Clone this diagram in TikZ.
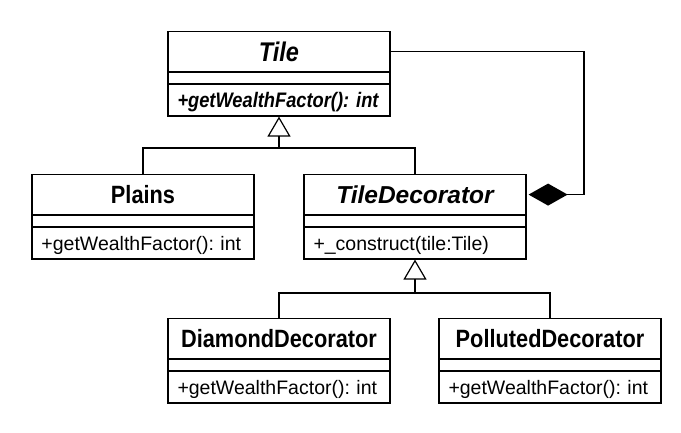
\documentclass[tikz,border=0pt]{standalone}
\usepackage{fontspec}
\setmainfont{Liberation Sans}
\newfontfamily\namefont{Liberation Sans}[FakeStretch=0.87]
\usetikzlibrary{arrows.meta}

\tikzset{
  clsname/.style={draw, line width=1.2pt, minimum width=222pt, minimum height=40pt,
    inner sep=0pt, text height=17.9pt, text depth=0pt,
    font=\namefont\fontsize{25}{25}\selectfont\bfseries},
  clsabstract/.style={clsname, text height=17.5pt,
    font=\fontsize{24.5}{24.5}\selectfont\bfseries\itshape},
  clsgap/.style={draw, line width=1.2pt, minimum width=222pt, minimum height=10.5pt,
    inner sep=0pt},
  clsop/.style={draw, line width=1.2pt, minimum width=222pt, minimum height=31.5pt,
    inner sep=0pt, text width=203pt, align=left, text height=14pt, text depth=0pt,
    font=\fontsize{19.5}{19.5}\selectfont},
  link/.style={line width=1.8pt},
  inherit/.style={link, -{Triangle[open, length=20pt, width=23pt, line width=1.2pt]}},
}

\begin{document}
\frenchspacing
\begin{tikzpicture}[x=1pt,y=-1pt]
  \useasboundingbox (0,0) rectangle (681,433);

  % abstract base class
  \node[clsabstract, anchor=north, text height=19.3pt, font=\namefont\fontsize{27}{27}\selectfont\bfseries\itshape] (Tile) at (279,31) {Tile};
  \node[clsgap, anchor=north] (Tile-a) at (Tile.south) {};
  \node[clsop, anchor=north, text height=15pt, font=\namefont\fontsize{21}{21}\selectfont\bfseries\itshape] (Tile-o) at (Tile-a.south) {+getWealthFactor(): int};

  % concrete tile
  \node[clsname, anchor=north] (Plains) at (143,174) {Plains};
  \node[clsgap, anchor=north] (Plains-a) at (Plains.south) {};
  \node[clsop, anchor=north] (Plains-o) at (Plains-a.south) {+getWealthFactor(): int};

  % abstract decorator
  \node[clsabstract, anchor=north] (TileDecorator) at (415,174) {TileDecorator};
  \node[clsgap, anchor=north] (TileDecorator-a) at (TileDecorator.south) {};
  \node[clsop, anchor=north] (TileDecorator-o) at (TileDecorator-a.south) {+\_construct(tile:Tile)};

  % concrete decorators
  \node[clsname, anchor=north] (DiamondDecorator) at (279,318) {DiamondDecorator};
  \node[clsgap, anchor=north] (DiamondDecorator-a) at (DiamondDecorator.south) {};
  \node[clsop, anchor=north] (DiamondDecorator-o) at (DiamondDecorator-a.south) {+getWealthFactor(): int};

  \node[clsname, anchor=north] (PollutedDecorator) at (550,318) {PollutedDecorator};
  \node[clsgap, anchor=north] (PollutedDecorator-a) at (PollutedDecorator.south) {};
  \node[clsop, anchor=north] (PollutedDecorator-o) at (PollutedDecorator-a.south) {+getWealthFactor(): int};

  % generalisation Plains/TileDecorator -> Tile
  \coordinate (bar1) at (279,148);
  \draw[link] (Plains.north) |- (bar1) -| (TileDecorator.north);
  \draw[inherit] (bar1) -- (Tile-o.south);

  % generalisation of the two decorators
  \coordinate (bar2) at (415,293);
  \draw[link] (DiamondDecorator.north) |- (bar2) -| (PollutedDecorator.north);
  \draw[inherit] (bar2) -- (TileDecorator-o.south);

  % composition: decorator holds a tile
  \draw[link, {Diamond[length=39pt, width=22pt]}-] ([xshift=2pt]TileDecorator.east) -- ++(55,0) |- (Tile.east);
\end{tikzpicture}
\end{document}
